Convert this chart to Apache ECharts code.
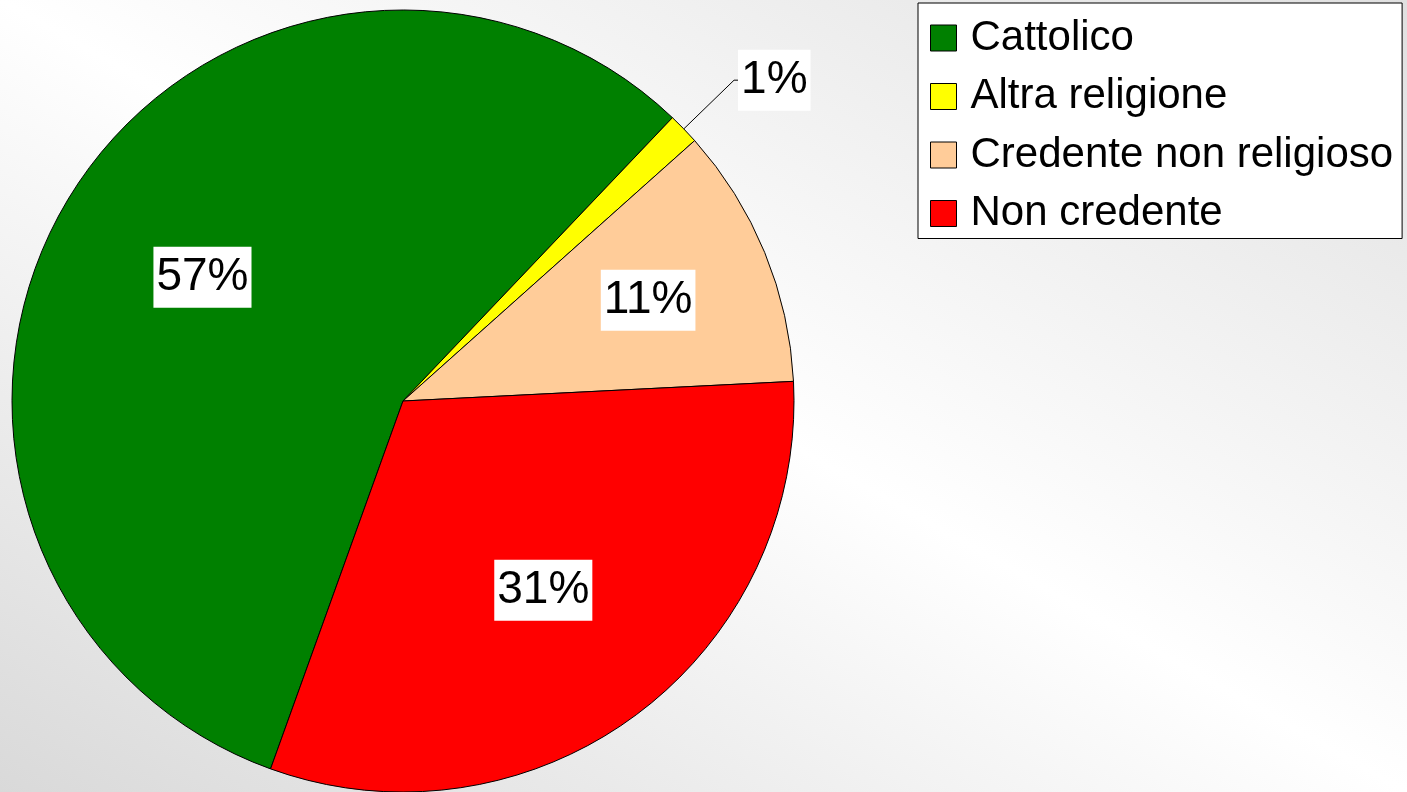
<!DOCTYPE html>
<html>
<head>
<meta charset="utf-8">
<script src="https://cdn.jsdelivr.net/npm/echarts@6/dist/echarts.min.js"></script>
<style>
html,body{margin:0;padding:0;width:1407px;height:792px;overflow:hidden;}
#chart{width:1407px;height:792px;}
</style>
</head>
<body>
<div id="chart"></div>
<script>
const categories = ['Cattolico', 'Altra religione', 'Credente non religioso', 'Non credente'];
const values = [56.6, 1.3, 10.8, 31.3];
const colors = ['#008000', '#FFFF00', '#FFCC99', '#FF0000'];

const FONT = '"Liberation Sans", Arial, sans-serif';
const W = 1407, H = 792;
const chart = echarts.init(document.getElementById('chart'), null, {renderer: 'canvas', width: W, height: H});

// background: axial gradient, isolines parallel to the top-left -> bottom-right diagonal
const cx0 = W / 2, cy0 = H / 2;
const dlen = Math.hypot(W, H);
const nx = -H / dlen, ny = W / dlen;
const half = (-cx0) * nx + (H - cy0) * ny;
const bg = {
  type: 'linear', global: true,
  x: cx0 + half * nx, y: cy0 + half * ny,
  x2: cx0 - half * nx, y2: cy0 - half * ny,
  colorStops: [
    {offset: 0, color: '#d9d9d9'},
    {offset: 0.5, color: '#ffffff'},
    {offset: 1, color: '#e0e0e0'}
  ]
};

const CENTER = [403, 401];
const R = 391;
const START = 250.2;
const pctFmt = p => Math.round(p.percent) + '%';
const labelBox = {
  color: '#000', fontSize: 46, fontFamily: FONT, lineHeight: 54,
  backgroundColor: '#ffffff', padding: [4, 3, 3, 3]
};

const mainData = categories.map((c, i) => ({
  name: c, value: values[i],
  itemStyle: {color: colors[i]},
  label: {show: values[i] < 5}
}));

function overlayData(showFn) {
  return categories.map((c, i) => ({
    name: c, value: values[i],
    itemStyle: {color: 'rgba(0,0,0,0)', borderWidth: 0},
    label: {show: showFn(i)}
  }));
}

const overlayBase = {
  type: 'pie', center: CENTER, startAngle: START, clockwise: true,
  silent: true, animation: false, legendHoverLink: false,
  emphasis: {disabled: true},
  labelLine: {show: false},
  label: Object.assign({position: 'inside', formatter: pctFmt}, labelBox)
};

const option = {
  backgroundColor: bg,
  animation: false,
  legend: {
    orient: 'vertical', left: 918, top: 3,
    padding: [14, 9, 4, 12],
    itemWidth: 26, itemHeight: 26, itemGap: 16.5,
    icon: 'rect',
    backgroundColor: '#ffffff', borderColor: '#000', borderWidth: 1, borderRadius: 0,
    selectedMode: false,
    itemStyle: {borderColor: '#000', borderWidth: 1},
    textStyle: {fontSize: 42, lineHeight: 42, color: '#000', fontFamily: FONT, padding: [0, 0, 0, 9]},
    data: categories
  },
  series: [
    {
      type: 'pie', name: 'main', center: CENTER, radius: R,
      startAngle: START, clockwise: true,
      avoidLabelOverlap: false,
      emphasis: {disabled: true},
      itemStyle: {borderColor: '#000', borderWidth: 1},
      label: Object.assign({position: 'outside', formatter: pctFmt, distanceToLabelLine: 0}, labelBox),
      labelLine: {show: true, length: 70, length2: 4, smooth: false, lineStyle: {color: '#000', width: 1}},
      data: mainData
    },
    Object.assign({}, overlayBase, {
      name: 'labelsA', radius: R * 2 * 0.595,
      data: overlayData(i => values[i] >= 5 && i !== 2)
    }),
    Object.assign({}, overlayBase, {
      name: 'labelsB', radius: R * 2 * 0.67,
      data: overlayData(i => i === 2)
    })
  ]
};
chart.setOption(option);
</script>
</body>
</html>
